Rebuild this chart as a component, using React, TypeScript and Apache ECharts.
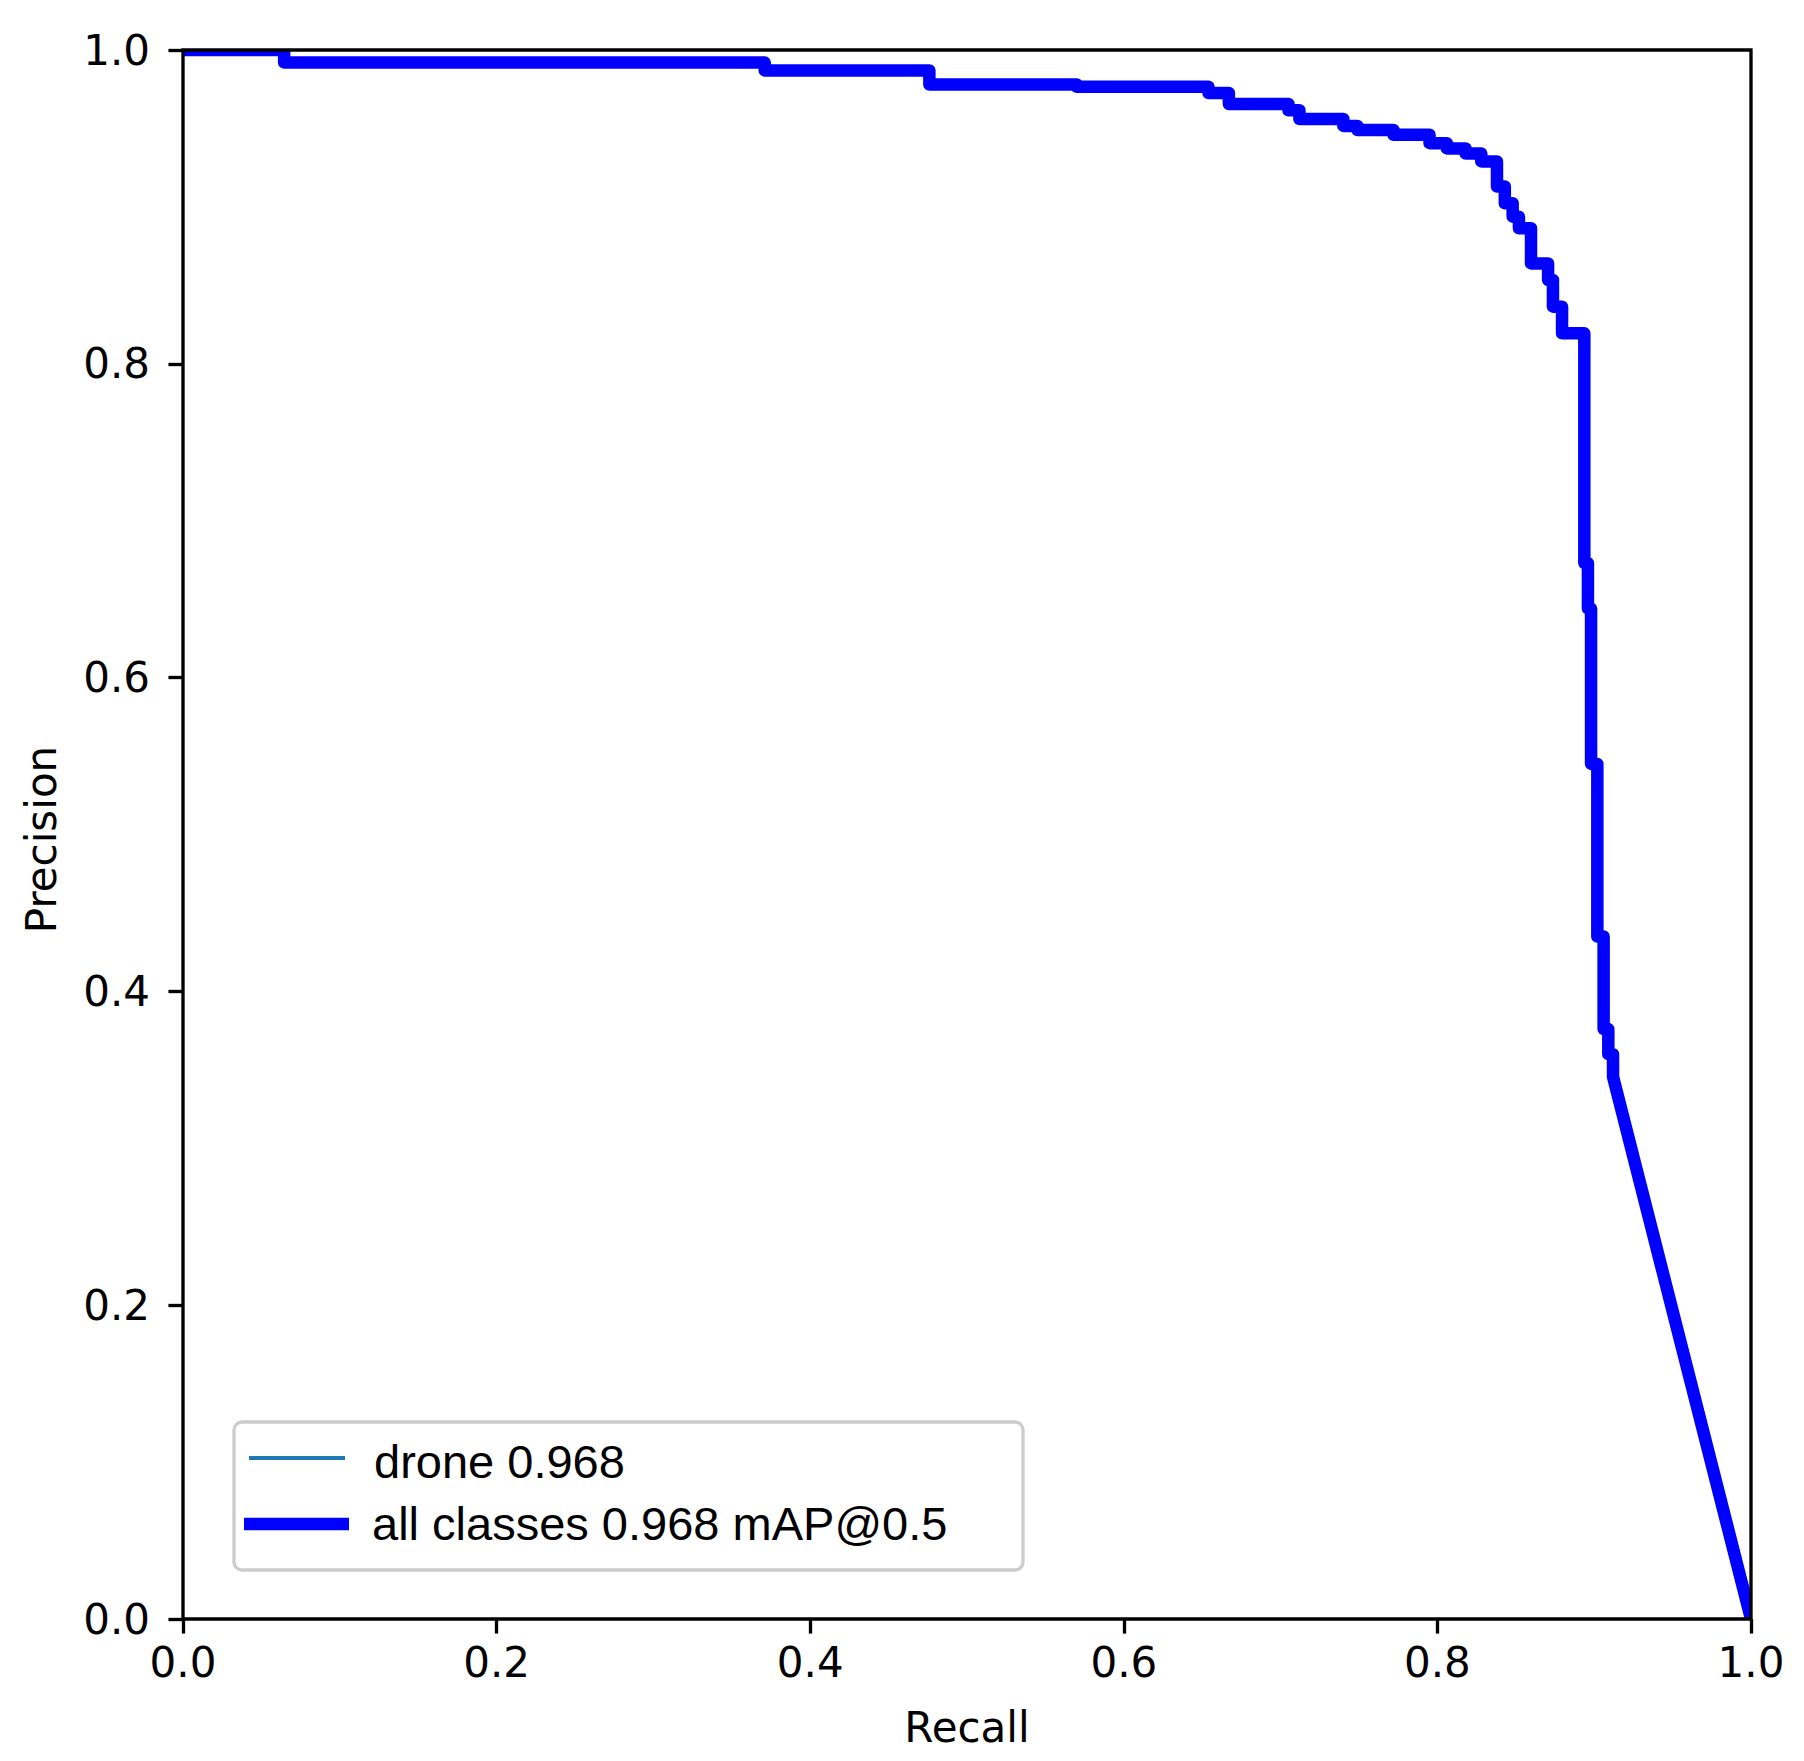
import React, { useEffect, useRef } from "react";
import * as echarts from "echarts";

// Recall / precision points (steps of the PR curve)
const recall: number[] = [
  0, 0.0645, 0.0645, 0.371, 0.371, 0.476, 0.476, 0.57, 0.57, 0.654, 0.654, 0.667, 0.667,
  0.705, 0.705, 0.712, 0.712, 0.74, 0.74, 0.749, 0.749, 0.772, 0.772, 0.795, 0.795, 0.806,
  0.806, 0.818, 0.818, 0.828, 0.828, 0.838, 0.838, 0.843, 0.843, 0.848, 0.848, 0.852, 0.852,
  0.8597, 0.8597, 0.8706, 0.8706, 0.8737, 0.8737, 0.8795, 0.8795, 0.8937, 0.8937, 0.896,
  0.896, 0.898, 0.898, 0.902, 0.902, 0.906, 0.906, 0.909, 0.909, 0.912, 0.912, 1.0,
];
const precision: number[] = [
  1.0, 1.0, 0.992, 0.992, 0.987, 0.987, 0.978, 0.978, 0.9766, 0.9766, 0.9726, 0.9726, 0.9656,
  0.9656, 0.9616, 0.9616, 0.956, 0.956, 0.9516, 0.9516, 0.949, 0.949, 0.946, 0.946, 0.9406,
  0.9406, 0.9373, 0.9373, 0.934, 0.934, 0.929, 0.929, 0.913, 0.913, 0.9023, 0.9023, 0.8938,
  0.8938, 0.8864, 0.8864, 0.864, 0.864, 0.8534, 0.8534, 0.8364, 0.8364, 0.8194, 0.8194, 0.673,
  0.673, 0.644, 0.644, 0.545, 0.545, 0.435, 0.435, 0.376, 0.376, 0.36, 0.36, 0.3456, 0.0,
];
const seriesNames: string[] = ["drone 0.968", "all classes 0.968 mAP@0.5"];
const axisTicks: number[] = [0, 0.2, 0.4, 0.6, 0.8, 1.0];
const xTitle = "Recall";
const yTitle = "Precision";

const W = 1804;
const H = 1761;
const G = { left: 183, top: 50, width: 1568, height: 1569 };
const PT = 300 / 72;

export default function App() {
  const ref = useRef<HTMLDivElement>(null);
  useEffect(() => {
    if (!ref.current) return;
    const chart = echarts.init(ref.current, undefined, { renderer: "svg" });
    const data = recall.map((r, i) => [r, precision[i]]);
    const tickFont = { fontFamily: "DejaVu Sans", fontSize: 42, color: "#000" };
    const lx = G.left + 61;
    const right = G.left + G.width;
    const bottom = G.top + G.height;
    const option: any = {
      animation: false,
      backgroundColor: "#ffffff",
      grid: { left: G.left, top: G.top, width: G.width, height: G.height, show: false },
      xAxis: {
        type: "value",
        z: 95,
        min: axisTicks[0],
        max: axisTicks[axisTicks.length - 1],
        interval: 0.2,
        axisLine: { show: false },
        axisTick: { show: true, length: 3.5 * PT, lineStyle: { color: "#000", width: 0.8 * PT } },
        axisLabel: { ...tickFont, margin: 22, formatter: (v: number) => v.toFixed(1), showMaxLabel: true, showMinLabel: true },
        splitLine: { show: false },
      },
      yAxis: {
        type: "value",
        z: 95,
        min: axisTicks[0],
        max: axisTicks[axisTicks.length - 1],
        interval: 0.2,
        axisLine: { show: false },
        axisTick: { show: true, length: 3.5 * PT, lineStyle: { color: "#000", width: 0.8 * PT } },
        axisLabel: { ...tickFont, margin: 33, formatter: (v: number) => v.toFixed(1) },
        splitLine: { show: false },
      },
      series: [
        {
          name: seriesNames[0],
          type: "line",
          data,
          symbol: "none",
          clip: true,
          lineStyle: { color: "#1f77b4", width: 1 * PT, join: "round" },
          z: 2,
        },
        {
          name: seriesNames[1],
          type: "line",
          data,
          symbol: "none",
          clip: true,
          lineStyle: { color: "#0000ff", width: 3 * PT, join: "round" },
          z: 3,
        },
      ],
      graphic: [
        // white masks emulating exact clipping of the thick line at the axes box
        {
          type: "rect",
          z: 90,
          silent: true,
          shape: { x: G.left, y: 0, width: G.width + 20, height: G.top },
          style: { fill: "#ffffff" },
        },
        {
          type: "rect",
          z: 90,
          silent: true,
          shape: { x: right, y: 0, width: W - right, height: bottom },
          style: { fill: "#ffffff" },
        },
        {
          type: "rect",
          z: 90,
          silent: true,
          shape: { x: G.left, y: bottom, width: G.width + 20, height: 12 },
          style: { fill: "#ffffff" },
        },
        {
          type: "rect",
          z: 100,
          shape: { x: G.left, y: G.top, width: G.width, height: G.height },
          style: { fill: "none", stroke: "#000", lineWidth: 0.8 * PT },
          silent: true,
        },
        {
          type: "text",
          z: 100,
          x: G.left + G.width / 2,
          y: 1727,
          style: { text: xTitle, font: "42px 'DejaVu Sans'", fill: "#000", align: "center", verticalAlign: "middle" },
        },
        {
          type: "text",
          z: 100,
          x: 41,
          y: G.top + G.height / 2 + 5,
          rotation: Math.PI / 2,
          style: { text: yTitle, font: "42px 'DejaVu Sans'", fill: "#000", align: "center", verticalAlign: "middle" },
        },
        {
          type: "rect",
          z: 110,
          shape: { x: 234, y: 1422, width: 789, height: 148, r: 8 },
          style: { fill: "rgba(255,255,255,0.8)", stroke: "#cccccc", lineWidth: 0.8 * PT },
        },
        {
          type: "line",
          z: 111,
          shape: { x1: 249, y1: 1458, x2: 345, y2: 1458 },
          style: { stroke: "#1f77b4", lineWidth: 1 * PT },
        },
        {
          type: "line",
          z: 111,
          shape: { x1: 244, y1: 1524, x2: 349, y2: 1524 },
          style: { stroke: "#0000ff", lineWidth: 3 * PT },
        },
        {
          type: "text",
          z: 111,
          x: lx + 130,
          y: 1461,
          style: { text: seriesNames[0], font: "47px 'Liberation Sans'", fill: "#000", align: "left", verticalAlign: "middle" },
        },
        {
          type: "text",
          z: 111,
          x: lx + 128,
          y: 1523,
          style: { text: seriesNames[1], font: "47px 'Liberation Sans'", fill: "#000", align: "left", verticalAlign: "middle" },
        },
      ],
    };
    chart.setOption(option);
    return () => chart.dispose();
  }, []);
  return (
    <div
      ref={ref}
      style={{ position: "fixed", left: 0, top: 0, width: W, height: H, background: "#fff" }}
    />
  );
}
